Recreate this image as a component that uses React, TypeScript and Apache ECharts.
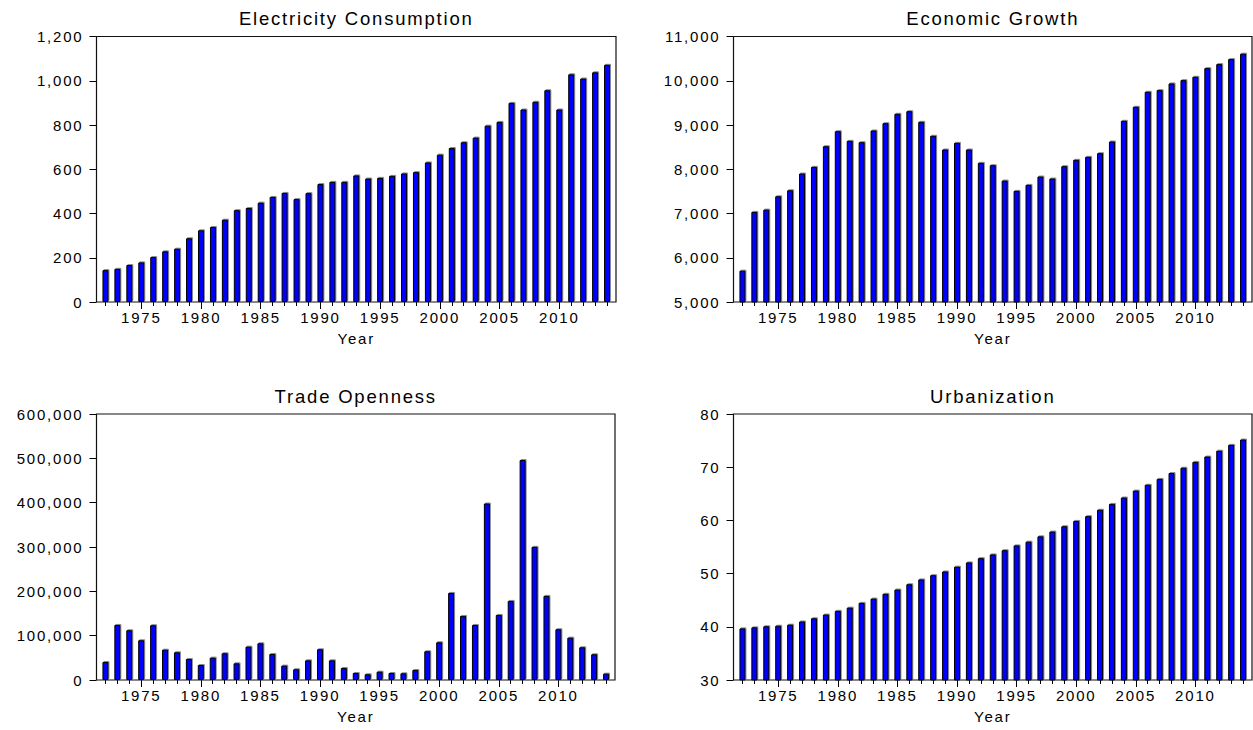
import { useEffect, useRef } from "react";
import * as echarts from "echarts";

// Annual observations, 1972–2014
const years = Array.from({ length: 43 }, (_, i) => String(1972 + i));

const electricity = [
  144, 150, 167, 179, 203, 229, 241, 288, 324, 339, 372, 415, 425, 449, 475,
  493, 465, 492, 533, 543, 543, 572, 558, 561, 570, 581, 587, 631, 666, 696,
  722, 743, 797, 814, 900, 870, 905, 957, 870, 1029, 1010, 1038, 1072,
];

const growth = [
  5708, 7036, 7088, 7389, 7525, 7903, 8054, 8520, 8860, 8642, 8611, 8876, 9041,
  9253, 9312, 9072, 8756, 8446, 8597, 8446, 8145, 8092, 7744, 7511, 7647, 7835,
  7790, 8069, 8213, 8281, 8363, 8627, 9095, 9412, 9751, 9788, 9939, 10014,
  10090, 10285, 10376, 10489, 10611,
];

const trade = [
  40650, 124200, 112200, 89600, 123500, 68400, 62500, 47400, 33900, 50400,
  60300, 37600, 75200, 82800, 58700, 32400, 24200, 44400, 69300, 44400, 27100,
  15800, 12900, 18800, 15800, 15100, 22600, 64800, 85100, 196400, 144500,
  124200, 398100, 146800, 178400, 496100, 300300, 189700, 114500, 95500, 73800,
  58000, 14300,
];

const urban = [
  39.7, 39.9, 40.1, 40.2, 40.4, 41.0, 41.6, 42.3, 43.0, 43.6, 44.5, 45.3, 46.2,
  47.0, 48.0, 48.9, 49.7, 50.4, 51.3, 52.1, 52.9, 53.6, 54.4, 55.3, 56.0, 57.0,
  57.9, 58.9, 59.9, 60.8, 62.0, 63.1, 64.3, 65.6, 66.7, 67.8, 68.9, 69.9, 71.0,
  72.0, 73.1, 74.2, 75.2,
];

const panelTitles = [
  "Electricity Consumption",
  "Economic Growth",
  "Trade Openness",
  "Urbanization",
];

// value-axis ranges [min, max, step]
const ranges: [number, number, number][] = [
  [0, 1200, 200],
  [5000, 11000, 1000],
  [0, 600000, 100000],
  [30, 80, 10],
];

const seriesData = [electricity, growth, trade, urban];

// frame boxes in pixels: [left, right, top, bottom]
const boxes: [number, number, number, number][] = [
  [96.5, 616, 36.5, 302],
  [733.5, 1252, 36.5, 302],
  [96.5, 615, 414, 680],
  [733.5, 1252, 414, 680],
];

const FONT = "'Liberation Sans', Arial, Helvetica, sans-serif";
const INK = "#000";

function buildOption() {
  const grid: any[] = [];
  const xAxis: any[] = [];
  const yAxis: any[] = [];
  const series: any[] = [];
  const title: any[] = [];
  const graphic: any[] = [];

  boxes.forEach(([L, R, T, B], i) => {
    const band = (R - L) / 43.5;
    const inset = band * 0.25;
    grid.push({
      left: L + inset,
      top: T,
      width: R - L - 2 * inset,
      height: B - T,
      outerBoundsMode: "none",
      containLabel: false,
    });

    const isMajor = (_idx: number, val: string) => Number(val) % 5 === 0;

    // yearly minor ticks + labels every five years
    xAxis.push({
      gridIndex: i,
      type: "category",
      position: "bottom",
      data: years,
      boundaryGap: true,
      axisLine: { show: false },
      axisTick: {
        show: true,
        interval: 0,
        alignWithLabel: true,
        length: 4,
        lineStyle: { color: INK, width: 1 },
      },
      axisLabel: {
        interval: isMajor,
        margin: 8,
        color: INK,
        fontFamily: FONT,
        fontSize: 15,
      },
      splitLine: { show: false },
      name: "Year",
      nameLocation: "middle",
      nameGap: 29,
      nameTextStyle: { color: INK, fontFamily: FONT, fontSize: 15 },
    });
    // longer ticks at five-year marks
    xAxis.push({
      gridIndex: i,
      type: "category",
      position: "bottom",
      data: years,
      boundaryGap: true,
      axisLine: { show: false },
      axisTick: {
        show: true,
        interval: isMajor,
        alignWithLabel: true,
        length: 7,
        lineStyle: { color: INK, width: 1 },
      },
      axisLabel: { show: false },
      splitLine: { show: false },
    });

    const [min, max, step] = ranges[i];
    yAxis.push({
      gridIndex: i,
      type: "value",
      min,
      max,
      interval: step,
      offset: inset,
      axisLine: { show: false },
      axisTick: { show: true, length: 7, lineStyle: { color: INK, width: 1 } },
      axisLabel: {
        margin: 13,
        color: INK,
        fontFamily: FONT,
        fontSize: 15,
        formatter: (v: number) => v.toLocaleString("en-US"),
      },
      splitLine: { show: false },
    });

    series.push({
      type: "bar",
      xAxisIndex: i * 2,
      yAxisIndex: i,
      data: seriesData[i],
      barWidth: 6,
      silent: true,
      itemStyle: {
        color: "#0000ff",
        borderColor: "#000",
        borderWidth: 1,
        shadowColor: "rgba(0,0,0,0.45)",
        shadowBlur: 0,
        shadowOffsetX: 1,
        shadowOffsetY: -1,
      },
    });

    title.push({
      text: panelTitles[i],
      left: (L + R) / 2,
      top: T - 18,
      padding: 0,
      textAlign: "center",
      textVerticalAlign: "middle",
      textStyle: {
        color: INK,
        fontFamily: FONT,
        fontSize: 18.5,
        fontWeight: "normal",
      },
    });

    graphic.push({
      type: "rect",
      z: 10,
      silent: true,
      shape: { x: L, y: T, width: R - L, height: B - T },
      style: { fill: "none", stroke: "#111", lineWidth: 1.2 },
    });
  });

  return {
    animation: false,
    backgroundColor: "#fff",
    title,
    grid,
    xAxis,
    yAxis,
    series,
    graphic,
  };
}

export default function App() {
  const ref = useRef<HTMLDivElement>(null);

  useEffect(() => {
    if (!ref.current) return;
    const chart = echarts.init(ref.current, undefined, { renderer: "svg" });
    chart.setOption(buildOption() as any);
    return () => chart.dispose();
  }, []);

  return (
    <div
      ref={ref}
      style={{
        position: "fixed",
        left: 0,
        top: 0,
        width: 1253,
        height: 730,
        background: "#fff",
        letterSpacing: "1.8px",
      }}
    />
  );
}
